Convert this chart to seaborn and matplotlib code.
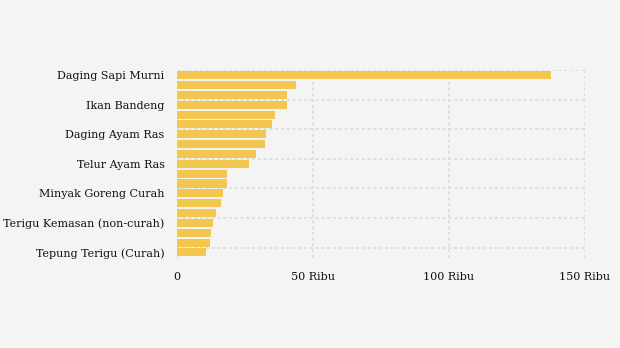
import matplotlib
matplotlib.use("Agg")
import matplotlib.pyplot as plt
import seaborn as sns
import pandas as pd

komoditas = [
    "Daging Sapi Murni", "Cabai Merah Keriting", "Bawang Putih Honan",
    "Ikan Bandeng", "Bawang Merah", "Cabai Rawit Merah",
    "Daging Ayam Ras", "Ikan Kembung", "Ikan Tongkol",
    "Telur Ayam Ras", "Minyak Goreng Kemasan", "Gula Pasir",
    "Minyak Goreng Curah", "Beras Premium", "Kedelai Impor",
    "Tepung Terigu Kemasan (non-curah)", "Beras Medium", "Jagung Pipilan",
    "Tepung Terigu (Curah)",
]
harga_ribu = [137.5, 43.7, 40.4, 40.4, 36.0, 34.9, 32.7, 32.4, 29.0, 26.5,
              18.4, 18.4, 16.9, 16.2, 14.3, 13.2, 12.5, 12.1, 10.7]
xticks = [0, 50, 100, 150]
xtick_labels = ["0", "50 Ribu", "100 Ribu", "150 Ribu"]

df = pd.DataFrame({"komoditas": komoditas, "harga": harga_ribu})

sns.set_theme(style="white")
plt.rcParams["font.family"] = ["DejaVu Serif"]

fig = plt.figure(figsize=(6.2, 3.48), dpi=100, facecolor="#f4f4f4")
ax = fig.add_axes([0.2855, 0.259, 0.658, 0.539])
ax.set_facecolor("#f4f4f4")

sns.barplot(data=df, y="komoditas", x="harga", orient="h", color="#f2c64f",
            saturation=1, width=0.82, linewidth=0, ax=ax, zorder=3)

ax.set_xlim(0, 150)
ax.set_ylim(18.55, -0.5)

grid_kw = dict(color="#dcdcdc", lw=1.3, ls=(0, (1.6, 1.6)), zorder=1)
for xv in xticks:
    ax.axvline(xv, **grid_kw)
for i in range(0, len(komoditas), 3):
    ax.axhline(i - 0.5, **grid_kw)

shown = list(range(0, len(komoditas), 3))
ax.set_yticks(shown)
ax.set_yticklabels([komoditas[i] for i in shown], fontsize=8, color="#111111")
ax.set_xticks(xticks)
ax.set_xticklabels(xtick_labels, fontsize=8, color="#111111")
ax.tick_params(axis="y", length=4, color="#dddddd", width=1, pad=5)
ax.tick_params(axis="x", length=0, pad=10)
ax.set_xlabel("")
ax.set_ylabel("")
for s in ax.spines.values():
    s.set_visible(False)

fig.savefig("out.png", dpi=100, facecolor="#f4f4f4")
